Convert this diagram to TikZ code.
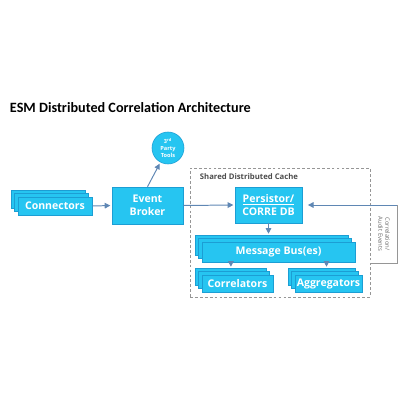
\documentclass[tikz,border=0pt]{standalone}
\usepackage{fontspec}
\setmainfont{Carlito}
\newfontfamily\labelfont{Open Sans}
\usetikzlibrary{shadows,arrows.meta}

\definecolor{boxcyan}{RGB}{38,197,241}
\definecolor{boxedge}{RGB}{28,158,212}
\definecolor{linkblue}{RGB}{95,135,180}
\definecolor{cachegray}{RGB}{150,150,150}
\newcommand{\px}{0.025cm}

\begin{document}
\begin{tikzpicture}[x=0.025cm, y=-0.025cm,
    box/.style={draw=boxedge, line width=0.4pt, fill=boxcyan, text=white, inner sep=0pt,
        align=center, font=\labelfont\bfseries\fontsize{7.5}{9}\selectfont},
    stack/.style={box,
        copy shadow={shadow xshift=-0.165cm, shadow yshift=0.165cm, fill=boxcyan, draw=boxedge, line width=0.4pt},
        copy shadow={shadow xshift=-0.0825cm, shadow yshift=0.0825cm, fill=boxcyan, draw=boxedge, line width=0.4pt}},
    link/.style={draw=linkblue, line width=0.7pt, shorten >=1pt, -{Triangle[length=4pt,width=4pt]}},
    cache/.style={draw=cachegray, line width=0.5pt, dash pattern=on 2pt off 1.5pt, inner sep=0pt},
    small/.style={font=\labelfont\bfseries\fontsize{5.5}{6.5}\selectfont, text=black!70}
]
    \useasboundingbox (0,0) rectangle (400,400);

    \node [anchor=west, font=\bfseries\fontsize{10.1}{12}\selectfont] (title) at (5,108) {ESM Distributed Correlation Architecture};

    % shared cache frame
    \node [cache, minimum width=180*\px, minimum height=129*\px] (cache) at (280,232.5) {};
    \node [small, anchor=west] (cachelabel) at (195,177) {Shared Distributed Cache};

    \node [stack, minimum width=74*\px, minimum height=18*\px] (connectors) at (55,206) {Connectors};
    \node [box, minimum width=71*\px, minimum height=37*\px] (broker) at (147.5,205.5) {Event\\Broker};
    \node [circle, fill=boxcyan, draw=boxedge, line width=0.4pt, minimum size=32*\px, inner sep=0pt,
        text=white, align=center, font=\labelfont\bfseries\fontsize{4}{5}\selectfont] (tools) at (168,148) {3\textsuperscript{rd}\\Party\\Tools};

    \node [box, minimum width=67*\px, minimum height=36*\px] (persistor) at (268.5,205) {\underline{Persistor/}\\CORRE DB};
    \node [stack, minimum width=153*\px, minimum height=20*\px] (bus) at (278.5,252) {Message Bus(es)};
    \node [stack, minimum width=71*\px, minimum height=17*\px] (correlators) at (237.5,283.5) {Correlators};
    \node [stack, minimum width=67*\px, minimum height=17*\px] (aggregators) at (328.5,283.5) {Aggregators};

    % correlation / audit events feedback
    \node [rotate=-90, align=center, text=black!60, font=\labelfont\fontsize{4.2}{5}\selectfont] (events) at (384,234) {Correlation/\\Audit Events};
    \coordinate (evtop) at (397,205);
    \coordinate (evbot) at (397,263);
    \draw [cachegray, line width=0.5pt] (cache.east |- evbot) -- (evbot) -- (evtop);
    \draw [link, shorten >=4pt] (evtop) -- (persistor.east);

    \draw [link] (connectors.east) -- (broker.west);
    \draw [link] (broker.north) -- (tools);
    \draw [link] (broker.east) -- (persistor.west);
    \draw [link] (persistor.south) -- ([yshift=0.165cm]persistor.south |- bus.north);
    \draw [link] ([xshift=-0.165cm]bus.south -| correlators.north) -- ([xshift=-0.165cm, yshift=0.165cm]correlators.north);
    \draw [link] ([xshift=-0.05cm]bus.south -| aggregators.north) -- ([xshift=-0.05cm, yshift=0.165cm]aggregators.north);
\end{tikzpicture}
\end{document}
